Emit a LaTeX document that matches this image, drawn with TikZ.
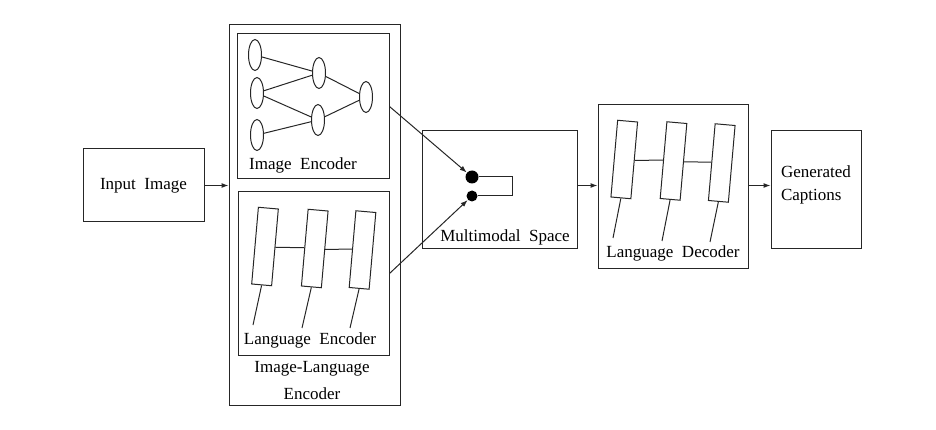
\documentclass[tikz,border=0pt]{standalone}
\usepackage{fontspec}
\setmainfont{LiberationSerif}[Extension=.ttf, UprightFont=*-Regular, BoldFont=*-Bold]
\usetikzlibrary{arrows.meta, shapes.geometric}

\begin{document}
\begin{tikzpicture}[x=1pt, y=-1pt, line width=1pt, draw=black!85,
  every node/.style={font=\fontsize{17}{20}\selectfont, inner sep=0pt},
  box/.style={draw, rectangle},
  neuron/.style={draw, ellipse, minimum width=13, minimum height=31},
  cell/.style={draw, rectangle, minimum width=20, minimum height=77, rotate=-5},
  dot/.style={circle, fill=black, draw=none},
  arr/.style={-{Latex[length=7pt, width=5pt]}}]
\useasboundingbox (0,0) rectangle (936,430);
% Boxes
\node[box, minimum width=121, minimum height=73] (input) at (143.5,185.5) {Input~~Image};
\node[box, minimum width=171, minimum height=380] (ile) at (314.5,215) {};
\node[box, minimum width=152, minimum height=145] (imgenc) at (313,106.5) {};
\node[box, minimum width=151, minimum height=163] (langenc) at (313.5,273.5) {};
\node[box, minimum width=155, minimum height=117] (mm) at (499.5,189.5) {};
\node[box, minimum width=150, minimum height=163] (langdec) at (673,186.5) {};
\node[box, minimum width=90, minimum height=117] (caps) at (816,189.5) {};
% Labels
\node (imgenclbl) at (303,165) {Image~~Encoder};
\node (langenclbl) at (310,340) {Language~~Encoder};
\node[align=center, font=\fontsize{17}{27}\selectfont] (ilelbl) at (312,381) {Image-Language\\Encoder};
\node (mmlbl) at (505,237) {Multimodal~~Space};
\node (langdeclbl) at (673,253) {Language~~Decoder};
\node[align=left, font=\fontsize{17}{23}\selectfont] (capslbl) at (816,184.5) {Generated\\Captions};
% Image encoder network
\node[neuron] (n11) at (255,55) {};
\node[neuron] (n12) at (257,93) {};
\node[neuron] (n13) at (257,135) {};
\node[neuron] (n21) at (319,73) {};
\node[neuron] (n22) at (318,120) {};
\node[neuron] (n31) at (366,97) {};
\draw (n11) -- (n21);
\draw (n12) -- (n21);
\draw (n12) -- (n22);
\draw (n13) -- (n22);
\draw (n21) -- (n31);
\draw (n22) -- (n31);
% Language encoder cells
\node[cell] (e1) at (265,246.5) {};
\node[cell] (e2) at (314.75,248.5) {};
\node[cell] (e3) at (362.5,250) {};
\coordinate (et1) at (253,325);
\coordinate (et2) at (302,328);
\coordinate (et3) at (350,328);
\draw (e1.east) -- (e2.west);
\draw (e2.east) -- (e3.west);
\draw (e1.south) -- (et1);
\draw (e2.south) -- (et2);
\draw (e3.south) -- (et3);
% Language decoder cells
\node[cell] (c1) at (624.25,159.5) {};
\node[cell] (c2) at (673.5,161) {};
\node[cell] (c3) at (721.75,163) {};
\coordinate (ct1) at (613,238);
\coordinate (ct2) at (662,241);
\coordinate (ct3) at (710,242);
\draw (c1.east) -- (c2.west);
\draw (c2.east) -- (c3.west);
\draw (c1.south) -- (ct1);
\draw (c2.south) -- (ct2);
\draw (c3.south) -- (ct3);
% Multimodal space
\node[dot, minimum size=13] (d1) at (472,177) {};
\node[dot, minimum size=11] (d2) at (472,196) {};
\draw (d1.east) -- ++(33,0) |- (d2.east);
% Arrows
\draw[arr] (input.east) -- (input.east -| ile.west);
\draw[arr] (imgenc.east) -- (d1);
\draw[arr] (langenc.east) -- (d2);
\draw[arr] (mm.east |- input.east) -- (langdec.west |- input.east);
\draw[arr] (langdec.east |- input.east) -- (caps.west |- input.east);
\end{tikzpicture}
\end{document}
